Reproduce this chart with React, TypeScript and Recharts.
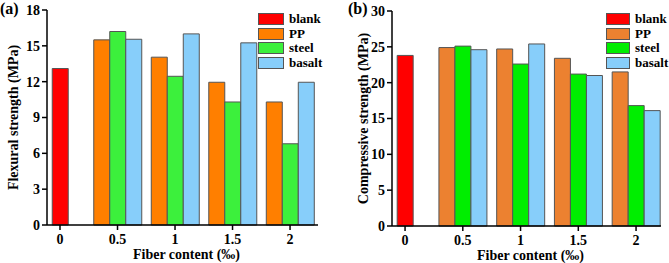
import React from "react";
import { BarChart, Bar, XAxis, YAxis, Legend } from "recharts";

// fiber content (‰) on the x axis
const fiberContent = [0, 0.5, 1, 1.5, 2];

// (a) flexural strength, MPa
const flexBlank = [13.1];
const flexPP = [15.5, 14.05, 11.95, 10.3];
const flexSteel = [16.2, 12.45, 10.3, 6.8];
const flexBasalt = [15.55, 16.0, 15.25, 11.95];
const flexTicks = [0, 3, 6, 9, 12, 15, 18];

// (b) compressive strength, MPa
const compBlank = [23.8];
const compPP = [24.9, 24.7, 23.4, 21.5];
const compSteel = [25.1, 22.6, 21.2, 16.8];
const compBasalt = [24.6, 25.4, 21.0, 16.1];
const compTicks = [0, 5, 10, 15, 20, 25, 30];

const FONT = "'Liberation Serif', 'Times New Roman', serif";

const buildRows = (blank: number[], pp: number[], steel: number[], basalt: number[]) =>
  fiberContent.map((x, i) => ({
    x,
    blank: i === 0 ? blank[0] : null,
    PP: i > 0 ? pp[i - 1] : null,
    steel: i > 0 ? steel[i - 1] : null,
    basalt: i > 0 ? basalt[i - 1] : null,
  }));

interface PanelProps {
  tag: string;
  tagX: number;
  yTitle: string;
  yTitleX: number;
  rows: any[];
  yMax: number;
  yTicks: number[];
  colors: { blank: string; PP: string; steel: string; basalt: string };
  width: number;
  margin: { top: number; right: number; left: number; bottom: number };
  yAxisWidth: number;
  xAxisHeight: number;
  domain: [number, number];
  legendLeft: number;
  swatchW: number;
}

const tickStyle = { fontFamily: FONT, fontWeight: 700, fontSize: 14, fill: "#000" };

const Panel: React.FC<PanelProps> = (p) => {
  const series = ["blank", "PP", "steel", "basalt"] as const;

  const renderLegend = () => (
    <div style={{ fontFamily: FONT, fontWeight: 700, fontSize: 13 }}>
      {series.map((s) => (
        <div key={s} style={{ display: "flex", alignItems: "center", height: 14.5 }}>
          <span
            style={{
              display: "inline-block",
              width: p.swatchW,
              height: 12,
              background: p.colors[s],
              border: "1px solid #555",
              boxSizing: "border-box",
              marginRight: 5,
            }}
          />
          <span style={{ lineHeight: "14px" }}>{s}</span>
        </div>
      ))}
    </div>
  );

  const YTitle = (props: any) => {
    const vb = props.viewBox || { x: 0, y: 0, width: 0, height: 0 };
    const cx = p.yTitleX;
    const cy = vb.y + vb.height / 2;
    return (
      <text
        x={cx}
        y={cy}
        transform={`rotate(-90, ${cx}, ${cy})`}
        textAnchor="middle"
        dominantBaseline="central"
        style={{ fontFamily: FONT, fontWeight: 700, fontSize: 14, fill: "#000" }}
      >
        {p.yTitle}
      </text>
    );
  };

  const XTitle = (props: any) => {
    const vb = props.viewBox || { x: 0, y: 0, width: 0, height: 0 };
    return (
      <text
        x={vb.x + vb.width / 2 + 4}
        y={vb.y + 29}
        textAnchor="middle"
        dominantBaseline="central"
        style={{ fontFamily: FONT, fontWeight: 700, fontSize: 14, fill: "#000" }}
      >
        Fiber content (‰)
      </text>
    );
  };

  return (
    <div style={{ position: "relative", width: p.width, height: 263 }}>
      <div
        style={{
          position: "absolute",
          left: p.tagX,
          top: 0,
          fontFamily: FONT,
          fontWeight: 700,
          fontSize: 16,
          lineHeight: "18px",
          zIndex: 2,
        }}
      >
        {p.tag}
      </div>
      <BarChart width={p.width} height={263} data={p.rows} margin={p.margin} barGap={0}>
        <XAxis
          xAxisId="a"
          dataKey="x"
          type="number"
          domain={p.domain}
          ticks={fiberContent}
          allowDataOverflow
          height={p.xAxisHeight}
          tickSize={5}
          tickMargin={4}
          tick={tickStyle}
          axisLine={{ stroke: "#000", strokeWidth: 1.5 }}
          tickLine={{ stroke: "#000", strokeWidth: 1.5 }}
          label={<XTitle />}
        />
        <XAxis xAxisId="b" dataKey="x" type="number" domain={p.domain} ticks={fiberContent} allowDataOverflow hide />
        <XAxis
          xAxisId="top"
          orientation="top"
          dataKey="x"
          type="number"
          domain={p.domain}
          allowDataOverflow
          height={0}
          tick={false}
          tickLine={false}
          axisLine={{ stroke: "#000", strokeWidth: 1.5 }}
        />
        <YAxis
          domain={[0, p.yMax]}
          ticks={p.yTicks}
          width={p.yAxisWidth}
          tickSize={5}
          tickMargin={2}
          tick={tickStyle}
          axisLine={{ stroke: "#000", strokeWidth: 1.5 }}
          tickLine={{ stroke: "#000", strokeWidth: 1.5 }}
          label={<YTitle />}
        />
        <YAxis
          yAxisId="right"
          orientation="right"
          domain={[0, p.yMax]}
          width={0}
          tick={false}
          tickLine={false}
          axisLine={{ stroke: "#000", strokeWidth: 1.5 }}
        />
        <Legend
          layout="horizontal"
          verticalAlign="middle"
          align="center"
          content={renderLegend}
          wrapperStyle={{ left: p.legendLeft, top: 12, width: "auto", height: "auto" }}
        />
        <Bar xAxisId="a" dataKey="blank" barSize={16} fill={p.colors.blank} stroke="#555" strokeWidth={1} isAnimationActive={false} />
        <Bar xAxisId="b" dataKey="PP" barSize={16} fill={p.colors.PP} stroke="#555" strokeWidth={1} isAnimationActive={false} />
        <Bar xAxisId="b" dataKey="steel" barSize={16} fill={p.colors.steel} stroke="#555" strokeWidth={1} isAnimationActive={false} />
        <Bar xAxisId="b" dataKey="basalt" barSize={16} fill={p.colors.basalt} stroke="#555" strokeWidth={1} isAnimationActive={false} />
      </BarChart>
    </div>
  );
};

export default function App() {
  const flexRows = buildRows(flexBlank, flexPP, flexSteel, flexBasalt);
  const compRows = buildRows(compBlank, compPP, compSteel, compBasalt);

  return (
    <div style={{ position: "absolute", left: 0, top: 0, width: 669, height: 263, background: "#fff", display: "flex" }}>
      <Panel
        tag="(a)"
        tagX={0}
        yTitle="Flexural strength (MPa)"
        yTitleX={13}
        rows={flexRows}
        yMax={18}
        yTicks={flexTicks}
        colors={{ blank: "#ff0000", PP: "#ff7f00", steel: "#3cf03c", basalt: "#87cefa" }}
        width={335}
        margin={{ top: 10, right: 17, left: 0, bottom: 0 }}
        yAxisWidth={47}
        xAxisHeight={38}
        domain={[-0.113, 2.243]}
        legendLeft={258}
        swatchW={26}
      />
      <Panel
        tag="(b)"
        tagX={13}
        yTitle="Compressive strength (MPa)"
        yTitleX={28}
        rows={compRows}
        yMax={30}
        yTicks={compTicks}
        colors={{ blank: "#ff0000", PP: "#ec8130", steel: "#00ee00", basalt: "#87cefa" }}
        width={334}
        margin={{ top: 11, right: 8, left: 0, bottom: 0 }}
        yAxisWidth={57}
        xAxisHeight={37}
        domain={[-0.113, 2.216]}
        legendLeft={271}
        swatchW={24}
      />
    </div>
  );
}
